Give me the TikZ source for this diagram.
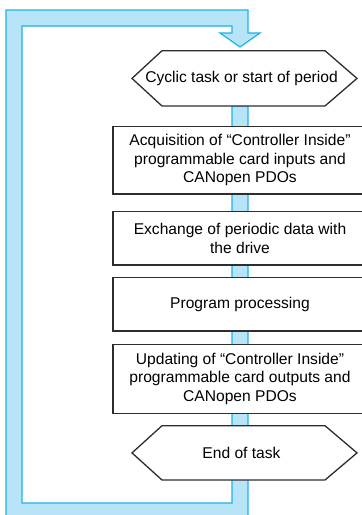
\documentclass[tikz,border=0pt]{standalone}
\usepackage{fontspec}
\setmainfont{Liberation Sans}
\definecolor{bandfill}{RGB}{184,228,248}
\definecolor{bandline}{RGB}{27,180,234}
\definecolor{boxline}{RGB}{45,45,45}
\begin{document}
\begin{tikzpicture}[x=1pt,y=-1pt,
  txt/.style={font=\fontsize{15.6}{18.5}\selectfont},
  stepbox/.style={txt,draw=boxline,line width=1.3pt,fill=white,minimum width=254pt,inner sep=0pt,align=center},
  hexline/.style={draw=boxline,line width=1.3pt,fill=white},
  hextext/.style={txt,inner sep=0pt,align=center},
  band/.style={fill=bandfill,draw=bandline,line width=1.2pt}]
\useasboundingbox (0,0) rectangle (362,515);
\clip (0,0) rectangle (362,515);
% loop band and central strip
\coordinate (tip) at (240,47);
\draw[band] (6,530) -- (6,10) -- (248,10) -- (248,33) -- (260,33) -- (tip) -- (220,33) -- (232,33) -- (232,26) -- (22,26) -- (22,503) -- (232,503) -- (232,106) -- (248,106) -- (248,530) -- cycle;
% start hexagon
\draw[hexline] (132,78.4) -- (162,50.7) -- (325,50.7) -- (357,78.4) -- (325,106) -- (162,106) -- cycle;
\node[hextext] (start) at (241.5,78.4) {Cyclic task or start of period};
% boxes
\node[stepbox,minimum height=67.3pt] (acq) at (240,160.3) {Acquisition of “Controller Inside”\\programmable card inputs and\\CANopen PDOs};
\node[stepbox,minimum height=53.3pt] (exch) at (240,238.3) {Exchange of periodic data with\\the drive};
\node[stepbox,minimum height=53.7pt] (prog) at (240,304.2) {Program processing};
\node[stepbox,minimum height=69pt] (upd) at (240,378.8) {Updating of “Controller Inside”\\programmable card outputs and\\CANopen PDOs};
% end hexagon
\draw[hexline] (132,452.9) -- (162,425.7) -- (325,425.7) -- (357,452.9) -- (325,480) -- (162,480) -- cycle;
\node[hextext] (end) at (241.5,452.9) {End of task};
\end{tikzpicture}
\end{document}
